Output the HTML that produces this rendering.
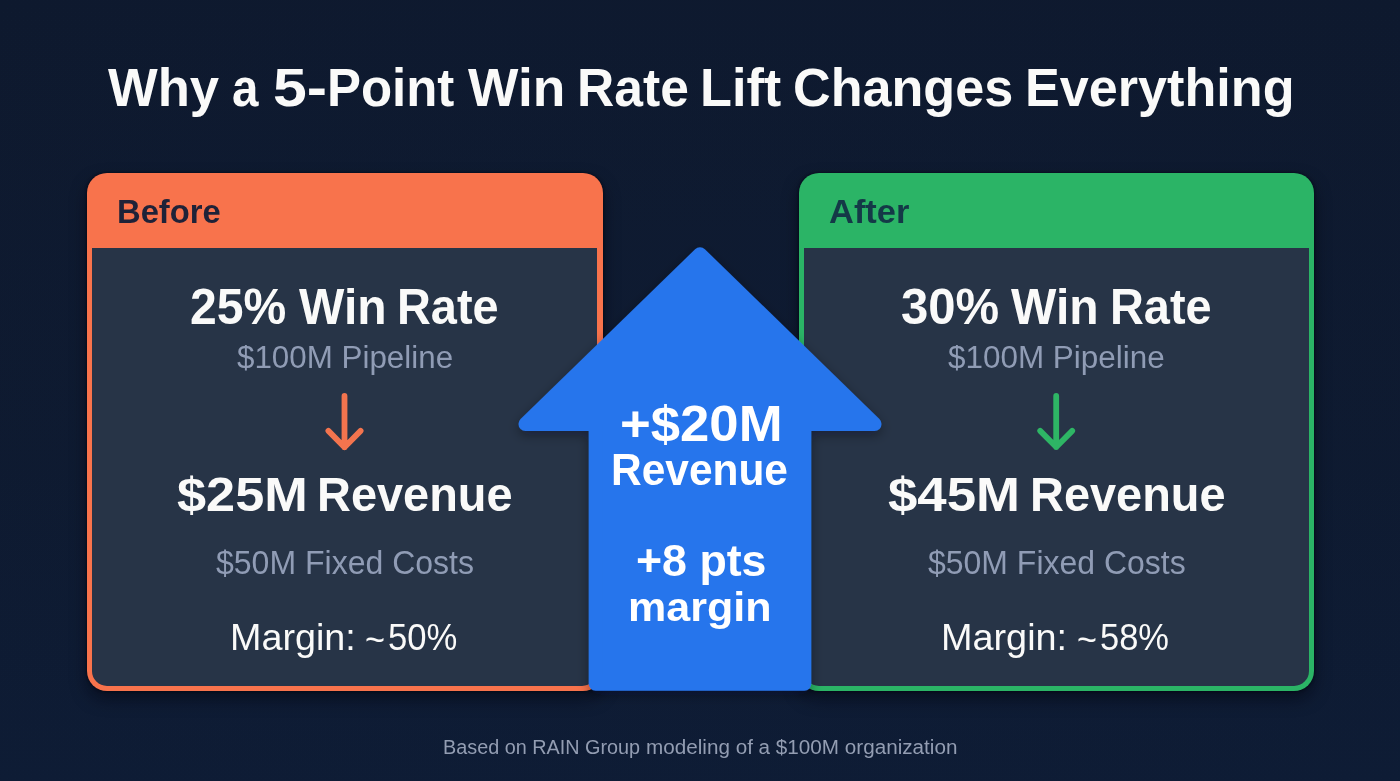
<!DOCTYPE html>
<html>
<head>
<meta charset="utf-8">
<title>Why a 5-Point Win Rate Lift Changes Everything</title>
<style>
  html, body { margin: 0; padding: 0; }
  body {
    width: 1400px; height: 781px; overflow: hidden; position: relative;
    font-family: "Liberation Sans", sans-serif;
    background: #0e1a30;
  }
  .bg {
    position: absolute; left: 0; top: 0; width: 1400px; height: 781px;
    background:
      radial-gradient(ellipse 1000px 600px at 700px 400px, rgba(16,30,56,.28) 0%, rgba(16,30,56,0) 100%),
      linear-gradient(180deg, #0e192e 0%, #0e1a30 60%, #0e1c35 100%);
  }
  .t { position: absolute; white-space: nowrap; line-height: 1; margin: 0; transform-origin: 0 0; }
  .b { font-weight: bold; }
  .w { color: #fafaf9; }
  .ww { color: #ffffff; }
  .g { color: #909cb5; }
  .f { color: #939db2; }
  .k1 { color: #1f2238; }
  .k2 { color: #143947; }

  .card { position: absolute; top: 173px; height: 518px; border-radius: 20px; box-shadow: 0 0 3px rgba(3,6,16,.9), 0 8px 16px rgba(3,6,16,.55); }
  .card .panel { position: absolute; top: 75px; bottom: 5px; background: #273447; border-radius: 0 0 15px 15px; }
  #before { left: 87px; width: 516px; background: #f8734c; }
  #before .panel { left: 5px; right: 6px; }
  #after { left: 799px; width: 515px; background: #2bb466; }
  #after .panel { left: 5px; right: 5px; }
  svg { position: absolute; left: 0; top: 0; }
</style>
</head>
<body>
<div class="bg"></div>


<div class="card" id="before"><div class="panel"></div></div>
<div class="card" id="after"><div class="panel"></div></div>




<svg width="1400" height="781" viewBox="0 0 1400 781">
  <defs>
    <filter id="sh" x="-20%" y="-20%" width="140%" height="140%">
      <feDropShadow dx="0" dy="4" stdDeviation="6" flood-color="#020612" flood-opacity="0.38"/>
    </filter>
  </defs>
  <!-- small down arrows -->
  <g fill="none" stroke-width="5.8" stroke-linecap="round" stroke-linejoin="round">
    <path d="M344.5 396 V447.2 M328.4 430.9 L344.5 447.2 L360.6 430.9" stroke="#f3744e"/>
    <path d="M1056.2 396 V447 M1040.2 430.9 L1056.2 447 L1072.2 430.9" stroke="#2eb565"/>
  </g>
  <!-- big up arrow -->
  <path id="big" filter="url(#sh)" fill="#2675ec" stroke="#2675ec" stroke-width="14" stroke-linejoin="round"
        d="M700 254.3 L874.5 424 L804.3 424 L804.3 683.7 L595.7 683.7 L595.7 424 L525.5 424 Z"/>
</svg>

<div class="t b w" id="t1" style="left:107.75px; top:61.01px; font-size:53.48px; transform:scaleX(0.9847);">Why</div>
<div class="t b w" id="t2" style="left:231.53px; top:61.01px; font-size:53.48px; transform:scaleX(0.8890);">a</div>
<div class="t b w" id="t3" style="left:273.34px; top:61.01px; font-size:53.48px; transform:scaleX(1.1358);">5-</div>
<div class="t b w" id="t4" style="left:327.35px; top:61.01px; font-size:53.48px; transform:scaleX(0.9528);">Point</div>
<div class="t b w" id="t5" style="left:468.15px; top:61.01px; font-size:53.48px; transform:scaleX(0.9980);">Win</div>
<div class="t b w" id="t6" style="left:576.91px; top:61.01px; font-size:53.48px; transform:scaleX(0.9653);">Rate</div>
<div class="t b w" id="t7" style="left:699.66px; top:61.01px; font-size:53.48px; transform:scaleX(0.9777);">Lift</div>
<div class="t b w" id="t8" style="left:793.37px; top:61.01px; font-size:53.48px; transform:scaleX(0.9752);">Changes</div>
<div class="t b w" id="t9" style="left:1024.87px; top:61.01px; font-size:53.48px; transform:scaleX(0.9754);">Everything</div>
<div class="t b k1" id="lbl1" style="left:117.09px; top:194.77px; font-size:33.77px; transform:scaleX(0.9698);">Before</div>
<div class="t b k2" id="lbl2" style="left:828.63px; top:194.37px; font-size:34.06px; transform:scaleX(1.0120);">After</div>
<div class="t b w" id="l1a" style="left:190.38px; top:281.69px; font-size:50.72px; transform:scaleX(0.9487);">25%</div>
<div class="t b w" id="l1b" style="left:298.86px; top:281.69px; font-size:50.72px; transform:scaleX(0.9469);">Win</div>
<div class="t b w" id="l1c" style="left:397.41px; top:281.69px; font-size:50.72px; transform:scaleX(0.9248);">Rate</div>
<div class="t g" id="l2" style="left:236.71px; top:341.44px; font-size:32.03px; transform:scaleX(0.9790);">$100M Pipeline</div>
<div class="t b w" id="l3a" style="left:176.69px; top:469.73px; font-size:48.84px; transform:scaleX(1.0706);">$25M</div>
<div class="t b w" id="l3b" style="left:316.90px; top:469.73px; font-size:48.84px; transform:scaleX(0.9611);">Revenue</div>
<div class="t g" id="l4" style="left:216.21px; top:546.74px; font-size:32.32px; transform:scaleX(0.9908);">$50M Fixed Costs</div>
<div class="t w" id="l5a" style="left:229.88px; top:619.52px; font-size:36.96px; transform:scaleX(1.0204);">Margin:</div>
<div class="t w" id="l5b" style="left:365.28px; top:621.52px; font-size:36.96px; transform:scaleX(0.9280);">~</div>
<div class="t w" id="l5c" style="left:388.07px; top:619.52px; font-size:36.96px; transform:scaleX(0.9372);">50%</div>
<div class="t b w" id="r1a" style="left:901.02px; top:281.69px; font-size:50.72px; transform:scaleX(0.9673);">30%</div>
<div class="t b w" id="r1b" style="left:1011.36px; top:281.69px; font-size:50.72px; transform:scaleX(0.9469);">Win</div>
<div class="t b w" id="r1c" style="left:1110.11px; top:281.69px; font-size:50.72px; transform:scaleX(0.9248);">Rate</div>
<div class="t g" id="r2" style="left:948.01px; top:341.44px; font-size:32.03px; transform:scaleX(0.9817);">$100M Pipeline</div>
<div class="t b w" id="r3a" style="left:887.58px; top:469.73px; font-size:48.84px; transform:scaleX(1.0799);">$45M</div>
<div class="t b w" id="r3b" style="left:1029.50px; top:469.73px; font-size:48.84px; transform:scaleX(0.9611);">Revenue</div>
<div class="t g" id="r4" style="left:928.01px; top:546.74px; font-size:32.32px; transform:scaleX(0.9896);">$50M Fixed Costs</div>
<div class="t w" id="r5a" style="left:940.88px; top:619.52px; font-size:36.96px; transform:scaleX(1.0230);">Margin:</div>
<div class="t w" id="r5b" style="left:1076.88px; top:621.52px; font-size:36.96px; transform:scaleX(0.9228);">~</div>
<div class="t w" id="r5c" style="left:1100.07px; top:619.52px; font-size:36.96px; transform:scaleX(0.9331);">58%</div>
<div class="t b ww" id="a1" style="left:620.01px; top:398.71px; font-size:49.28px; transform:scaleX(1.0693);">+$20M</div>
<div class="t b ww" id="a2" style="left:611.21px; top:447.41px; font-size:45.07px; transform:scaleX(0.9421);">Revenue</div>
<div class="t b ww" id="a3" style="left:635.52px; top:538.60px; font-size:44.49px; transform:scaleX(1.0050);">+8 pts</div>
<div class="t b ww" id="a4" style="left:628.40px; top:586.50px; font-size:41.30px; transform:scaleX(1.0417);">margin</div>
<div class="t f" id="f1" style="left:442.65px; top:736.69px; font-size:20.72px; transform:scaleX(0.9563);">Based on RAIN Group</div>
<div class="t f" id="f2" style="left:646.03px; top:736.69px; font-size:20.72px; transform:scaleX(0.9978);">modeling of a $100M organization</div>


</body>
</html>
